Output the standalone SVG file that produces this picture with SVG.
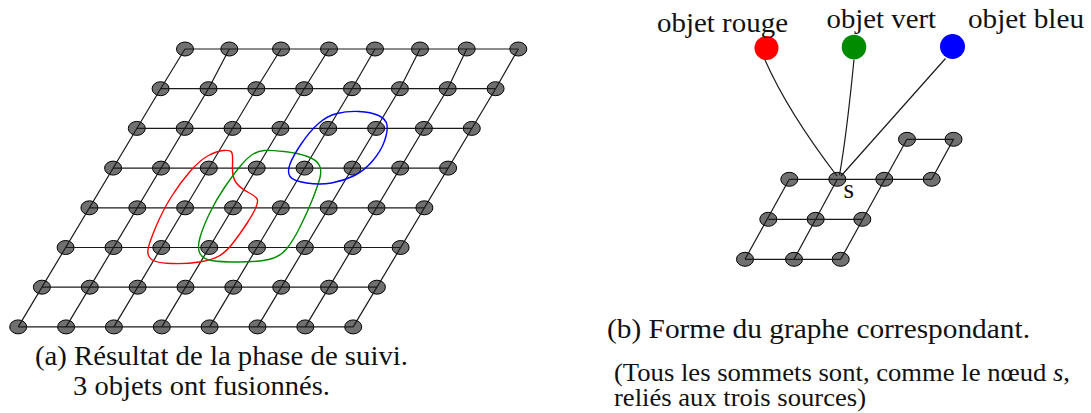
<svg xmlns="http://www.w3.org/2000/svg" width="1091" height="413" viewBox="0 0 1091 413">
<style>
.nd{fill:#707070;stroke:#000;stroke-width:1}
.e{fill:none;stroke:#1a1a1a;stroke-width:1.2}
.ct{fill:none;stroke-width:1.4}
.t{font-family:"Liberation Serif","Times New Roman",serif;fill:#111}
</style>
<rect width="1091" height="413" fill="#fff"/>
<g id="nodes-left">
<g id="n00"><ellipse class="nd" cx="185" cy="49" rx="8.5" ry="7"/></g>
<g id="n01"><ellipse class="nd" cx="229.3" cy="49" rx="8.5" ry="7"/></g>
<g id="n02"><ellipse class="nd" cx="281" cy="49" rx="8.5" ry="7"/></g>
<g id="n03"><ellipse class="nd" cx="329" cy="49" rx="8.5" ry="7"/></g>
<g id="n04"><ellipse class="nd" cx="375" cy="49" rx="8.5" ry="7"/></g>
<g id="n05"><ellipse class="nd" cx="420" cy="49" rx="8.5" ry="7"/></g>
<g id="n06"><ellipse class="nd" cx="466.7" cy="49" rx="8.5" ry="7"/></g>
<g id="n07"><ellipse class="nd" cx="518.3" cy="49" rx="8.5" ry="7"/></g>
<g id="n10"><ellipse class="nd" cx="160.6" cy="88.7" rx="8.5" ry="7"/></g>
<g id="n11"><ellipse class="nd" cx="208.5" cy="88.7" rx="8.5" ry="7"/></g>
<g id="n12"><ellipse class="nd" cx="256.3" cy="88.7" rx="8.5" ry="7"/></g>
<g id="n13"><ellipse class="nd" cx="304.2" cy="88.7" rx="8.5" ry="7"/></g>
<g id="n14"><ellipse class="nd" cx="352" cy="88.7" rx="8.5" ry="7"/></g>
<g id="n15"><ellipse class="nd" cx="399.9" cy="88.7" rx="8.5" ry="7"/></g>
<g id="n16"><ellipse class="nd" cx="447.7" cy="88.7" rx="8.5" ry="7"/></g>
<g id="n17"><ellipse class="nd" cx="495.6" cy="88.7" rx="8.5" ry="7"/></g>
<g id="n20"><ellipse class="nd" cx="136.8" cy="128.4" rx="8.5" ry="7"/></g>
<g id="n21"><ellipse class="nd" cx="184.7" cy="128.4" rx="8.5" ry="7"/></g>
<g id="n22"><ellipse class="nd" cx="232.5" cy="128.4" rx="8.5" ry="7"/></g>
<g id="n23"><ellipse class="nd" cx="280.4" cy="128.4" rx="8.5" ry="7"/></g>
<g id="n24"><ellipse class="nd" cx="328.2" cy="128.4" rx="8.5" ry="7"/></g>
<g id="n25"><ellipse class="nd" cx="376.1" cy="128.4" rx="8.5" ry="7"/></g>
<g id="n26"><ellipse class="nd" cx="423.9" cy="128.4" rx="8.5" ry="7"/></g>
<g id="n27"><ellipse class="nd" cx="471.8" cy="128.4" rx="8.5" ry="7"/></g>
<g id="n30"><ellipse class="nd" cx="113.1" cy="168.1" rx="8.5" ry="7"/></g>
<g id="n31"><ellipse class="nd" cx="161" cy="168.1" rx="8.5" ry="7"/></g>
<g id="n32"><ellipse class="nd" cx="208.8" cy="168.1" rx="8.5" ry="7"/></g>
<g id="n33"><ellipse class="nd" cx="256.7" cy="168.1" rx="8.5" ry="7"/></g>
<g id="n34"><ellipse class="nd" cx="304.5" cy="168.1" rx="8.5" ry="7"/></g>
<g id="n35"><ellipse class="nd" cx="352.4" cy="168.1" rx="8.5" ry="7"/></g>
<g id="n36"><ellipse class="nd" cx="400.2" cy="168.1" rx="8.5" ry="7"/></g>
<g id="n37"><ellipse class="nd" cx="448.1" cy="168.1" rx="8.5" ry="7"/></g>
<g id="n40"><ellipse class="nd" cx="89.4" cy="207.8" rx="8.5" ry="7"/></g>
<g id="n41"><ellipse class="nd" cx="137.3" cy="207.8" rx="8.5" ry="7"/></g>
<g id="n42"><ellipse class="nd" cx="185.1" cy="207.8" rx="8.5" ry="7"/></g>
<g id="n43"><ellipse class="nd" cx="233" cy="207.8" rx="8.5" ry="7"/></g>
<g id="n44"><ellipse class="nd" cx="280.8" cy="207.8" rx="8.5" ry="7"/></g>
<g id="n45"><ellipse class="nd" cx="328.7" cy="207.8" rx="8.5" ry="7"/></g>
<g id="n46"><ellipse class="nd" cx="376.5" cy="207.8" rx="8.5" ry="7"/></g>
<g id="n47"><ellipse class="nd" cx="424.4" cy="207.8" rx="8.5" ry="7"/></g>
<g id="n50"><ellipse class="nd" cx="65.6" cy="247.5" rx="8.5" ry="7"/></g>
<g id="n51"><ellipse class="nd" cx="113.5" cy="247.5" rx="8.5" ry="7"/></g>
<g id="n52"><ellipse class="nd" cx="161.3" cy="247.5" rx="8.5" ry="7"/></g>
<g id="n53"><ellipse class="nd" cx="209.2" cy="247.5" rx="8.5" ry="7"/></g>
<g id="n54"><ellipse class="nd" cx="257" cy="247.5" rx="8.5" ry="7"/></g>
<g id="n55"><ellipse class="nd" cx="304.9" cy="247.5" rx="8.5" ry="7"/></g>
<g id="n56"><ellipse class="nd" cx="352.7" cy="247.5" rx="8.5" ry="7"/></g>
<g id="n57"><ellipse class="nd" cx="400.6" cy="247.5" rx="8.5" ry="7"/></g>
<g id="n60"><ellipse class="nd" cx="41.9" cy="287.2" rx="8.5" ry="7"/></g>
<g id="n61"><ellipse class="nd" cx="89.8" cy="287.2" rx="8.5" ry="7"/></g>
<g id="n62"><ellipse class="nd" cx="137.6" cy="287.2" rx="8.5" ry="7"/></g>
<g id="n63"><ellipse class="nd" cx="185.5" cy="287.2" rx="8.5" ry="7"/></g>
<g id="n64"><ellipse class="nd" cx="233.3" cy="287.2" rx="8.5" ry="7"/></g>
<g id="n65"><ellipse class="nd" cx="281.2" cy="287.2" rx="8.5" ry="7"/></g>
<g id="n66"><ellipse class="nd" cx="329" cy="287.2" rx="8.5" ry="7"/></g>
<g id="n67"><ellipse class="nd" cx="376.9" cy="287.2" rx="8.5" ry="7"/></g>
<g id="n70"><ellipse class="nd" cx="18.2" cy="326.9" rx="8.5" ry="7"/></g>
<g id="n71"><ellipse class="nd" cx="66.1" cy="326.9" rx="8.5" ry="7"/></g>
<g id="n72"><ellipse class="nd" cx="113.9" cy="326.9" rx="8.5" ry="7"/></g>
<g id="n73"><ellipse class="nd" cx="161.8" cy="326.9" rx="8.5" ry="7"/></g>
<g id="n74"><ellipse class="nd" cx="209.6" cy="326.9" rx="8.5" ry="7"/></g>
<g id="n75"><ellipse class="nd" cx="257.5" cy="326.9" rx="8.5" ry="7"/></g>
<g id="n76"><ellipse class="nd" cx="305.3" cy="326.9" rx="8.5" ry="7"/></g>
<g id="n77"><ellipse class="nd" cx="353.2" cy="326.9" rx="8.5" ry="7"/></g>
</g>
<g id="nodes-right">
<g id="A0"><ellipse class="nd" cx="907" cy="139.3" rx="8.5" ry="7"/></g>
<g id="A1"><ellipse class="nd" cx="953.5" cy="139.3" rx="8.5" ry="7"/></g>
<g id="B0"><ellipse class="nd" cx="789.3" cy="179.3" rx="8.5" ry="7"/></g>
<g id="B1"><ellipse class="nd" cx="837.3" cy="179.3" rx="8.5" ry="7"/></g>
<g id="B2"><ellipse class="nd" cx="884.3" cy="179.3" rx="8.5" ry="7"/></g>
<g id="B3"><ellipse class="nd" cx="931.7" cy="179.3" rx="8.5" ry="7"/></g>
<g id="C0"><ellipse class="nd" cx="768.3" cy="219.3" rx="8.5" ry="7"/></g>
<g id="C1"><ellipse class="nd" cx="815.7" cy="219.3" rx="8.5" ry="7"/></g>
<g id="C2"><ellipse class="nd" cx="862.3" cy="219.3" rx="8.5" ry="7"/></g>
<g id="D0"><ellipse class="nd" cx="745" cy="259.3" rx="8.5" ry="7"/></g>
<g id="D1"><ellipse class="nd" cx="794" cy="259.3" rx="8.5" ry="7"/></g>
<g id="D2"><ellipse class="nd" cx="840.7" cy="259.3" rx="8.5" ry="7"/></g>
</g>
<g id="sources">
<g id="src-rouge"><circle cx="766.5" cy="48" r="12" fill="#ff0000"/><text class="t" x="657" y="32" font-size="28" textLength="131" lengthAdjust="spacingAndGlyphs">objet rouge</text></g>
<g id="src-vert"><circle cx="854" cy="47" r="12.3" fill="#008c00"/><text class="t" x="826.5" y="28" font-size="28" textLength="109.5" lengthAdjust="spacingAndGlyphs">objet vert</text></g>
<g id="src-bleu"><circle cx="952.5" cy="46.5" r="12.5" fill="#0000ff"/><text class="t" x="968" y="28" font-size="28" textLength="116" lengthAdjust="spacingAndGlyphs">objet bleu</text></g>
</g>
<g id="connectors">
<polyline class="e" points="185,49 518.3,49"/>
<polyline class="e" points="160.6,88.7 495.6,88.7"/>
<polyline class="e" points="136.8,128.4 471.8,128.4"/>
<polyline class="e" points="113.1,168.1 448.1,168.1"/>
<polyline class="e" points="89.4,207.8 424.4,207.8"/>
<polyline class="e" points="65.6,247.5 400.6,247.5"/>
<polyline class="e" points="41.9,287.2 376.9,287.2"/>
<polyline class="e" points="18.2,326.9 353.2,326.9"/>
<polyline class="e" points="185,49 160.6,88.7 18.2,326.9"/>
<polyline class="e" points="229.3,49 208.5,88.7 66.1,326.9"/>
<polyline class="e" points="281,49 256.3,88.7 113.9,326.9"/>
<polyline class="e" points="329,49 304.2,88.7 161.8,326.9"/>
<polyline class="e" points="375,49 352,88.7 209.6,326.9"/>
<polyline class="e" points="420,49 399.9,88.7 257.5,326.9"/>
<polyline class="e" points="466.7,49 447.7,88.7 305.3,326.9"/>
<polyline class="e" points="518.3,49 495.6,88.7 353.2,326.9"/>
<polyline class="e" points="907,139.3 953.5,139.3 931.7,179.3"/>
<polyline class="e" points="907,139.3 840.7,259.3"/>
<polyline class="e" points="789.3,179.3 931.7,179.3"/>
<polyline class="e" points="768.3,219.3 862.3,219.3"/>
<polyline class="e" points="745,259.3 840.7,259.3"/>
<polyline class="e" points="789.3,179.3 745,259.3"/>
<polyline class="e" points="837.3,179.3 794,259.3"/>
<path class="e" d="M765,60 Q788,112 837,176"/>
<path class="e" d="M854,59.5 Q846.5,136 839.5,175"/>
<path class="e" d="M945.5,58.5 L841,176"/>
</g>
<g id="contours">
<path class="ct" stroke="#ff0000" d="M223.5,150.5 Q230,150 231.5,152 Q233,154 232.5,165.5 Q232,177 236,182.5 Q240,188 248.5,192.5 Q257,197 257.5,200 Q258,203 255.5,208.5 Q253,214 246.5,224 Q240,234 233,243 Q226,252 219,256 Q212,260 199.5,262 Q187,264 171.5,263.5 Q156,263 151.5,259.5 Q147,256 148,249.5 Q149,243 156,226.5 Q163,210 171.5,196.5 Q180,183 190,171.5 Q200,160 208.5,155.5 Q217,151 223.5,150.5 Z"/>
<path class="ct" stroke="#008c00" d="M264,150.5 Q270,150 284,151.5 Q298,153 307.5,156.5 Q317,160 319.5,165.5 Q322,171 319.5,179.5 Q317,188 312,200.5 Q307,213 300,227 Q293,241 286.5,249 Q280,257 268.5,259.5 Q257,262 238.5,262 Q220,262 211.5,260.5 Q203,259 200,253.5 Q197,248 200,237.5 Q203,227 209.5,213.5 Q216,200 224.5,187.5 Q233,175 240,166.5 Q247,158 252.5,154.5 Q258,151 264,150.5 Z"/>
<path class="ct" stroke="#0000ff" d="M337,113.5 Q347,111 359,111.5 Q371,112 378.5,115.5 Q386,119 387,125 Q388,131 384.5,141 Q381,151 372.5,161 Q364,171 353.5,176 Q343,181 331.5,183 Q320,185 306.5,183 Q293,181 290,176.5 Q287,172 290,164 Q293,156 301.5,143.5 Q310,131 318.5,123.5 Q327,116 337,113.5 Z"/>
</g>
<g id="labels">
<text class="t" x="843.5" y="198" font-size="27">s</text>
<text class="t" x="35" y="365" font-size="27" textLength="373" lengthAdjust="spacingAndGlyphs">(a) Résultat de la phase de suivi.</text>
<text class="t" x="73" y="395" font-size="27" textLength="257" lengthAdjust="spacingAndGlyphs">3 objets ont fusionnés.</text>
<text class="t" x="607" y="338" font-size="27" textLength="423" lengthAdjust="spacingAndGlyphs">(b) Forme du graphe correspondant.</text>
<text class="t" x="614" y="381" font-size="25" textLength="456" lengthAdjust="spacingAndGlyphs">(Tous les sommets sont, comme le nœud <tspan font-style="italic">s</tspan>,</text>
<text class="t" x="614" y="406" font-size="25" textLength="252" lengthAdjust="spacingAndGlyphs">reliés aux trois sources)</text>
</g>
</svg>
